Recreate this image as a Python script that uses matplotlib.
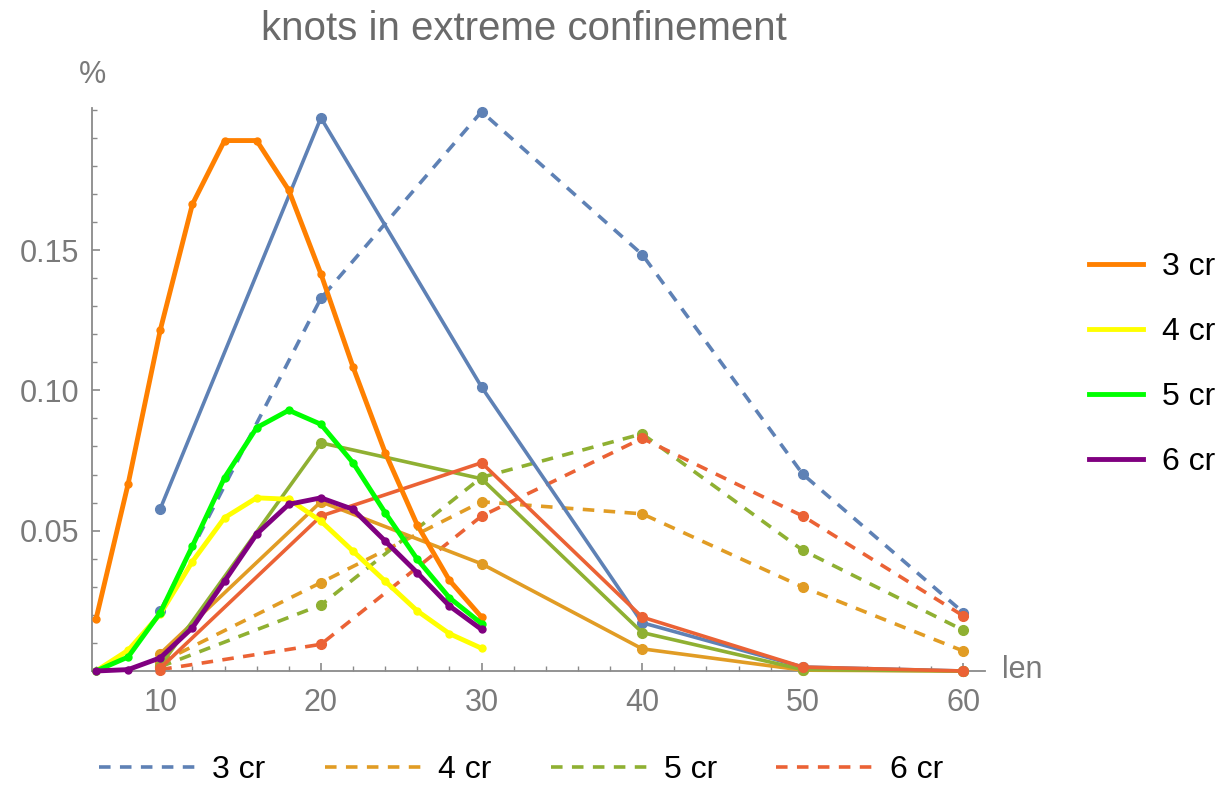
import matplotlib
matplotlib.use("Agg")
import matplotlib.pyplot as plt
from matplotlib.ticker import MultipleLocator, FixedLocator
from matplotlib.lines import Line2D

plt.rcParams['font.family'] = ['Liberation Sans', 'DejaVu Sans']

# ---- data ----
len_fine = [6, 8, 10, 12, 14, 16, 18, 20, 22, 24, 26, 28, 30]
bright_3cr = [0.0185, 0.0667, 0.1215, 0.1663, 0.189, 0.189, 0.1713, 0.1415, 0.1083, 0.0778, 0.052, 0.0323, 0.0192]
bright_4cr = [0.0, 0.0074, 0.0203, 0.039, 0.0546, 0.0617, 0.0612, 0.0534, 0.0427, 0.032, 0.0214, 0.0133, 0.0081]
bright_5cr = [0.0, 0.005, 0.0208, 0.0445, 0.0689, 0.0867, 0.0929, 0.0879, 0.0742, 0.0564, 0.0398, 0.0261, 0.0169]
bright_6cr = [0.0, 0.0005, 0.0047, 0.0154, 0.032, 0.0488, 0.0594, 0.0617, 0.0576, 0.0463, 0.035, 0.0232, 0.0148]

len_coarse = [10, 20, 30, 40, 50, 60]
solid_3cr = [0.0578, 0.1971, 0.1012, 0.0172, 0.0014, 0.0]
solid_4cr = [0.0062, 0.0603, 0.0382, 0.0079, 0.0003, 0.0]
solid_5cr = [0.0018, 0.0813, 0.0685, 0.0137, 0.0005, 0.0]
solid_6cr = [0.001, 0.0552, 0.0742, 0.0192, 0.0014, 0.0]

dashed_3cr = [0.0214, 0.1328, 0.1993, 0.1484, 0.0701, 0.0208]
dashed_4cr = [0.003, 0.0315, 0.0603, 0.056, 0.0299, 0.0071]
dashed_5cr = [0.0015, 0.0235, 0.069, 0.0845, 0.043, 0.0145]
dashed_6cr = [0.0005, 0.0095, 0.0552, 0.0829, 0.0552, 0.0196]

labels = ["3 cr", "4 cr", "5 cr", "6 cr"]
x_ticks = [10, 20, 30, 40, 50, 60]
y_ticks = [0.05, 0.10, 0.15]
y_tick_labels = ["0.05", "0.10", "0.15"]

bright_colors = ["#FF8000", "#FFFF00", "#00FF00", "#800080"]
muted_colors = ["#5E81B5", "#E19C24", "#8FB032", "#EB6235"]

DASH = (0, (3.2, 2.6))

# ---- figure ----
fig = plt.figure(figsize=(12.28, 7.91), dpi=100)
ax = fig.add_axes([92/1228, 120/791, 893/1228, 563/791])

bright = [bright_3cr, bright_4cr, bright_5cr, bright_6cr]
solid = [solid_3cr, solid_4cr, solid_5cr, solid_6cr]
dashed = [dashed_3cr, dashed_4cr, dashed_5cr, dashed_6cr]

for vals, c in zip(dashed, muted_colors):
    ax.plot(len_coarse, vals, color=c, lw=2.6, linestyle=DASH,
            marker='o', markersize=7, zorder=2, clip_on=False)
for vals, c in zip(solid, muted_colors):
    ax.plot(len_coarse, vals, color=c, lw=2.6, marker='o', markersize=7,
            zorder=3, clip_on=False)
for vals, c in zip(bright, bright_colors):
    ax.plot(len_fine, vals, color=c, lw=3.5, marker='o', markersize=5,
            zorder=4, clip_on=False)

ax.set_xlim(5.75, 61.34)
ax.set_ylim(0, 0.2006)

for s in ['top', 'right']:
    ax.spines[s].set_visible(False)
for s in ['left', 'bottom']:
    ax.spines[s].set_color('#8a8a8a')
    ax.spines[s].set_linewidth(1.3)

ax.xaxis.set_major_locator(FixedLocator(x_ticks))
ax.xaxis.set_minor_locator(MultipleLocator(2))
ax.yaxis.set_major_locator(FixedLocator(y_ticks))
ax.set_yticklabels(y_tick_labels)
ax.yaxis.set_minor_locator(MultipleLocator(0.01))
ax.tick_params(axis='both', which='major', direction='in', length=6, width=1.2,
               color='#8a8a8a', labelsize=22, labelcolor='#7a7a7a')
ax.tick_params(axis='both', which='minor', direction='in', length=3.8, width=1.0,
               color='#8a8a8a')
ax.tick_params(axis='x', which='major', pad=12)
ax.tick_params(axis='y', which='major', pad=9)

fig.text(524/1228, 1 - 29/791, "knots in extreme confinement", ha='center', va='center',
         fontsize=29, color='#6a6a6a')
fig.text(92/1228, 1 - 75/791, "%", ha='center', va='center', fontsize=22, color='#7a7a7a')
fig.text(1002/1228, 1 - 670/791, "len", ha='left', va='center', fontsize=22, color='#7a7a7a')

# right legend (bright solid)
h_right = [Line2D([], [], color=c, lw=3.5) for c in bright_colors]
fig.legend(h_right, labels, loc='upper left', bbox_to_anchor=(1089/1228, 1 - 252/791),
           frameon=False, fontsize=23, handlelength=1.7, handletextpad=0.6,
           labelspacing=1.1, borderaxespad=0, borderpad=0)

# bottom legend (muted dashed)
h_bottom = [Line2D([], [], color=c, lw=2.6, linestyle=DASH) for c in muted_colors]
fig.legend(h_bottom, labels, loc='center left', bbox_to_anchor=(99/1228, 1 - 770/791),
           ncol=4, frameon=False, fontsize=23, handlelength=3.1, handletextpad=0.45,
           columnspacing=1.85, borderaxespad=0, borderpad=0)

fig.savefig("out.png", dpi=100)
